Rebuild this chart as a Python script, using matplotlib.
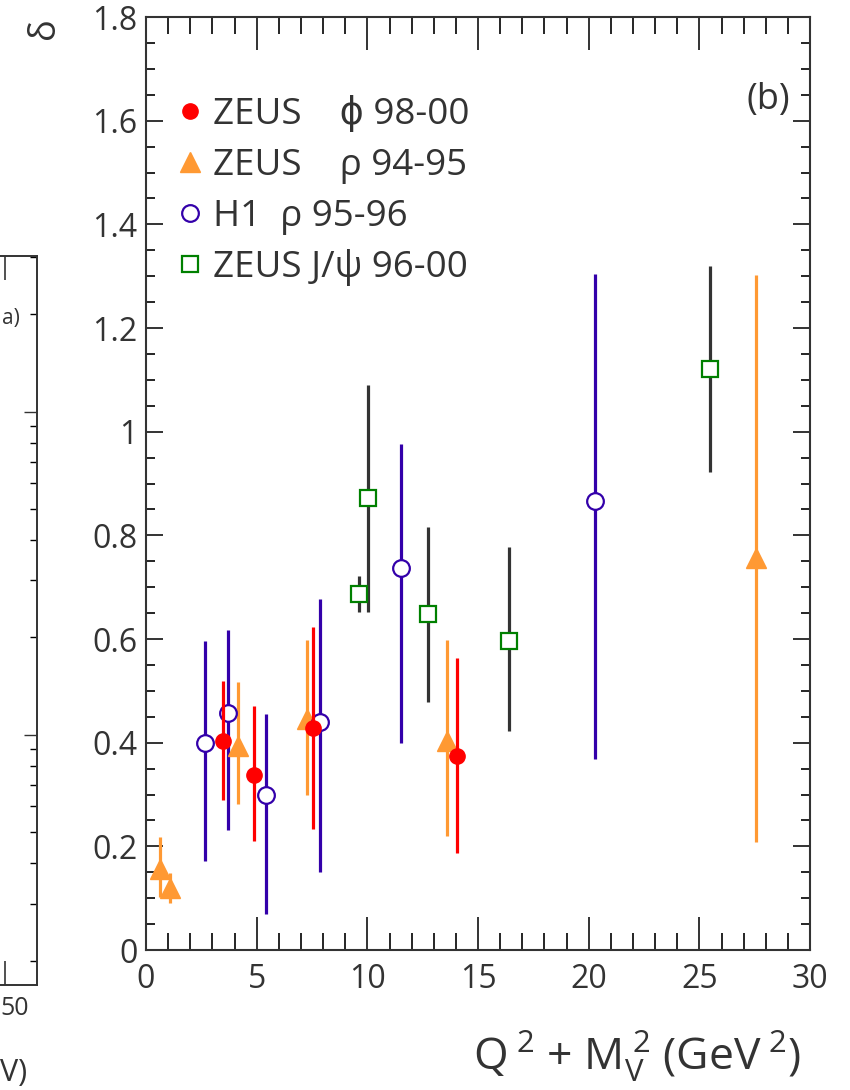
import matplotlib
matplotlib.use("Agg")
import matplotlib.pyplot as plt
import matplotlib.transforms as mtransforms
from matplotlib.lines import Line2D
from matplotlib.ticker import MultipleLocator, FuncFormatter

plt.rcParams["font.family"] = ["Open Sans", "DejaVu Sans"]
plt.rcParams["mathtext.fontset"] = "custom"
plt.rcParams["mathtext.rm"] = "Open Sans"
plt.rcParams["mathtext.it"] = "Open Sans"

# ZEUS phi 98-00
phi_x = [3.48, 4.86, 7.55, 14.07]
phi_y = [0.404, 0.338, 0.428, 0.375]
phi_lo = [0.290, 0.210, 0.233, 0.188]
phi_hi = [0.519, 0.471, 0.623, 0.564]

# ZEUS rho 94-95
rho_z_x = [0.63, 1.09, 4.14, 7.29, 13.6, 27.58]
rho_z_y = [0.157, 0.119, 0.394, 0.446, 0.404, 0.756]
rho_z_lo = [0.103, 0.091, 0.281, 0.300, 0.220, 0.208]
rho_z_hi = [0.219, 0.149, 0.518, 0.598, 0.598, 1.302]

# H1 rho 95-96
rho_h_x = [2.65, 3.72, 5.43, 7.85, 11.51, 20.3]
rho_h_y = [0.399, 0.458, 0.299, 0.439, 0.737, 0.867]
rho_h_lo = [0.171, 0.231, 0.070, 0.151, 0.400, 0.369]
rho_h_hi = [0.596, 0.617, 0.456, 0.677, 0.976, 1.304]

# ZEUS J/psi 96-00
jpsi_x = [9.64, 10.02, 12.74, 16.41, 25.48]
jpsi_y = [0.687, 0.872, 0.649, 0.597, 1.120]
jpsi_lo = [0.652, 0.652, 0.479, 0.423, 0.922]
jpsi_hi = [0.722, 1.090, 0.816, 0.777, 1.319]

labels = ["ZEUS    \u03d5 98-00", "ZEUS    \u03c1 94-95",
          "H1  \u03c1 95-96", "ZEUS J/\u03c8 96-00"]

dark = "#333333"
red = "#ff0000"
orange = "#ff9933"
indigo = "#3300aa"
green = "#008000"

fig = plt.figure(figsize=(8.5, 10.9), dpi=100)


def yerr(y, lo, hi):
    return [[v - l for v, l in zip(y, lo)], [h - v for v, h in zip(y, hi)]]


# panel (a), mostly cut off on the left edge of the crop
axa = fig.add_axes([-0.521, 0.0963, 0.5645, 0.6689])
axa.set_xlim(10, 160)
axa.set_yscale("log")
axa.set_ylim(1.68, 303)
axa.set_xticks([150])
axa.xaxis.set_major_formatter(FuncFormatter(lambda v, p: "50"))
axa.tick_params(axis="x", which="major", direction="in", length=17, width=1.2,
                top=True, labelsize=18, colors=dark, pad=8)
axa.tick_params(axis="y", which="major", direction="in", length=9.4, width=1.0,
                right=True, labelleft=False)
axa.tick_params(axis="y", which="minor", direction="in", length=5, width=1.0,
                right=True)
axa.tick_params(axis="y", colors=dark)
axa.yaxis.set_minor_formatter(FuncFormatter(lambda v, p: ""))
shift = mtransforms.ScaledTranslation(-5 / 100, 0, fig.dpi_scale_trans)
for lab in axa.get_xticklabels():
    lab.set_horizontalalignment("left")
    lab.set_transform(lab.get_transform() + shift)
for s in axa.spines.values():
    s.set_color(dark)
    s.set_linewidth(1.4)
fig.text(2 / 850, 1 - 318 / 1090, "a)", ha="left", va="center",
         fontsize=15, color=dark)
fig.text(0.5 / 850, 1 - 1073 / 1090, "V)", ha="left", va="center",
         fontsize=22, color=dark)

# panel (b)
ax = fig.add_axes([0.1718, 0.1284, 0.7812, 0.8560])
ebkw = dict(linestyle="none", elinewidth=2.3, capsize=0)
ax.errorbar(phi_x, phi_y, yerr=yerr(phi_y, phi_lo, phi_hi), marker="o",
            ms=11, color=red, mec=red, zorder=4, **ebkw)
ax.errorbar(rho_z_x, rho_z_y, yerr=yerr(rho_z_y, rho_z_lo, rho_z_hi),
            marker="^", ms=14, color=orange, mec=orange, zorder=3, **ebkw)
ax.errorbar(rho_h_x, rho_h_y, yerr=yerr(rho_h_y, rho_h_lo, rho_h_hi),
            marker="o", ms=12, color=indigo, mfc="white", mec=indigo,
            mew=1.6, zorder=3, **ebkw)
ax.errorbar(jpsi_x, jpsi_y, yerr=yerr(jpsi_y, jpsi_lo, jpsi_hi), marker="s",
            ms=11.5, color=dark, mfc="white", mec=green, mew=1.6, zorder=3,
            **ebkw)

ax.set_xlim(0, 30)
ax.set_ylim(0, 1.8)
ax.xaxis.set_major_locator(MultipleLocator(5))
ax.xaxis.set_minor_locator(MultipleLocator(1))
ax.yaxis.set_major_locator(MultipleLocator(0.2))
ax.yaxis.set_minor_locator(MultipleLocator(0.05))
fmt = FuncFormatter(lambda v, p: "%g" % round(v, 2))
ax.xaxis.set_major_formatter(fmt)
ax.yaxis.set_major_formatter(fmt)
ax.tick_params(axis="x", which="major", direction="in", length=24, width=1.4,
               top=True, labelsize=23, colors=dark, pad=9)
ax.tick_params(axis="x", which="minor", direction="in", length=12, width=1.2,
               top=True)
ax.tick_params(axis="y", which="major", direction="in", length=12, width=1.4,
               right=True, labelsize=23, colors=dark, pad=6)
ax.tick_params(axis="y", which="minor", direction="in", length=6.5, width=1.2,
               right=True)
for s in ax.spines.values():
    s.set_color(dark)
    s.set_linewidth(1.5)

ax.text(0.97, 0.911, "(b)", transform=ax.transAxes, ha="right", va="center",
        fontsize=26, color=dark)

handles = [
    Line2D([], [], linestyle="none", marker="o", ms=11, color=red),
    Line2D([], [], linestyle="none", marker="^", ms=14, color=orange),
    Line2D([], [], linestyle="none", marker="o", ms=12, mfc="white",
           mec=indigo, mew=1.6),
    Line2D([], [], linestyle="none", marker="s", ms=11.5, mfc="white",
           mec=green, mew=1.6),
]
leg = ax.legend(handles, labels, loc="upper left",
                bbox_to_anchor=(0.0276, 0.931), frameon=False, fontsize=26.5,
                handlelength=0.6, handletextpad=0.33, labelspacing=0.4,
                borderaxespad=0)
for t in leg.get_texts():
    t.set_color(dark)

fig.text(45 / 850, 1 - 28 / 1090, "\u03b4", rotation=90, fontsize=26,
         color=dark, ha="center", va="center")
fig.text(800 / 850, 1 - 1056 / 1090,
         "Q$^{\\;2}$ + M$_{V}^{\\;2}$ (GeV$^{\\;2}$)",
         fontsize=32, color=dark, ha="right", va="center")

fig.savefig("out.png", dpi=100)
